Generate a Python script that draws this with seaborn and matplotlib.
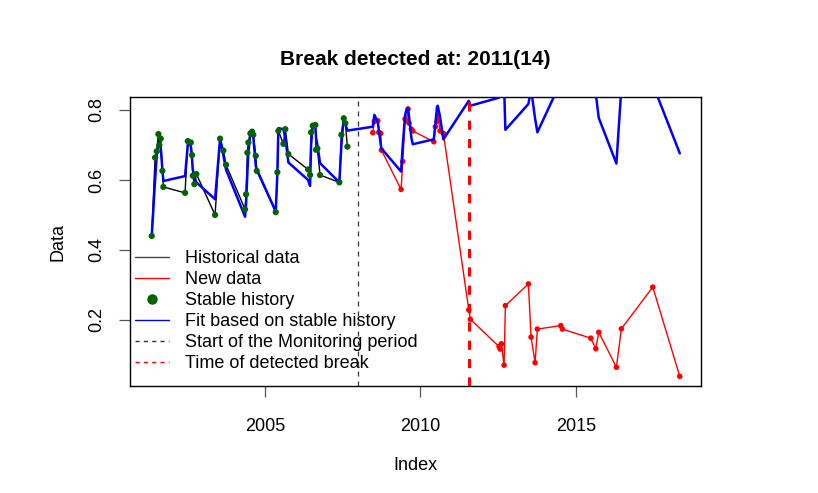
import numpy as np
import pandas as pd
import seaborn as sns
import matplotlib.pyplot as plt
from matplotlib.lines import Line2D

# stable history (observations + fitted model)
hist_time = [2001.353, 2001.460, 2001.514, 2001.566, 2001.598, 2001.643, 2001.695, 2001.727,
             2002.425, 2002.512, 2002.609, 2002.650, 2002.673, 2002.724, 2002.789,
             2003.391, 2003.552, 2003.658, 2003.745,
             2004.356, 2004.388, 2004.430, 2004.463, 2004.527, 2004.582, 2004.623, 2004.701, 2004.733,
             2005.344, 2005.396, 2005.428, 2005.589, 2005.653, 2005.750,
             2006.384, 2006.448, 2006.481, 2006.535, 2006.619, 2006.641, 2006.683, 2006.770,
             2007.391, 2007.456, 2007.533, 2007.584, 2007.649]
hist_value = [0.440, 0.664, 0.682, 0.731, 0.700, 0.718, 0.626, 0.580,
              0.563, 0.711, 0.707, 0.671, 0.612, 0.588, 0.617,
              0.500, 0.718, 0.684, 0.643,
              0.516, 0.559, 0.678, 0.707, 0.733, 0.738, 0.729, 0.669, 0.626,
              0.508, 0.622, 0.740, 0.703, 0.745, 0.674,
              0.630, 0.614, 0.736, 0.755, 0.757, 0.686, 0.690, 0.614,
              0.593, 0.729, 0.776, 0.762, 0.695]
hist_fit = [0.440, 0.600, 0.670, 0.705, 0.700, 0.690, 0.630, 0.597,
            0.611, 0.700, 0.700, 0.660, 0.630, 0.610, 0.593,
            0.545, 0.718, 0.670, 0.629,
            0.495, 0.530, 0.620, 0.680, 0.735, 0.741, 0.720, 0.640, 0.630,
            0.510, 0.620, 0.748, 0.745, 0.720, 0.650,
            0.600, 0.583, 0.700, 0.757, 0.752, 0.720, 0.700, 0.648,
            0.593, 0.700, 0.781, 0.760, 0.741]

# monitoring period (new data + fitted model)
new_time = [2008.466, 2008.518, 2008.627, 2008.659, 2008.724, 2008.745,
            2009.377, 2009.432, 2009.506, 2009.548, 2009.603, 2009.635, 2009.709, 2009.754,
            2010.430, 2010.481, 2010.536, 2010.558, 2010.632, 2010.739,
            2011.556, 2011.608,
            2012.531, 2012.564, 2012.605, 2012.692, 2012.734,
            2013.475, 2013.561, 2013.690, 2013.764,
            2014.517, 2014.569,
            2015.483, 2015.644, 2015.740,
            2016.307, 2016.468,
            2017.478, 2018.347]
new_value = [0.735, 0.767, 0.769, 0.736, 0.733, 0.685,
             0.573, 0.653, 0.774, 0.769, 0.803, 0.762, 0.745, 0.740,
             0.709, 0.752, 0.767, 0.783, 0.740, 0.733,
             0.229, 0.202,
             0.124, 0.117, 0.132, 0.071, 0.241,
             0.303, 0.151, 0.078, 0.174,
             0.184, 0.174,
             0.148, 0.118, 0.165,
             0.065, 0.175,
             0.294, 0.039]
new_fit = [0.752, 0.786, 0.765, 0.745, 0.700, 0.690,
           0.624, 0.700, 0.785, 0.800, 0.805, 0.780, 0.720, 0.702,
           0.716, 0.760, 0.810, 0.812, 0.780, 0.716,
           0.826, 0.812,
           0.835, 0.840, 0.850, 0.870, 0.743,
           0.817, 0.860, 0.775, 0.736,
           0.880, 0.890,
           0.900, 0.845, 0.777,
           0.647, 0.865,
           0.873, 0.676]

monitor_start = 2008.0
break_time = 2011.57

hist = pd.DataFrame({"time": hist_time, "value": hist_value})
new = pd.DataFrame({"time": new_time, "value": new_value})
fit = pd.DataFrame({"time": hist_time + new_time, "value": hist_fit + new_fit})

sns.set_style("ticks")
plt.rcParams["font.family"] = ["Liberation Sans", "DejaVu Sans"]
plt.rcParams.update({"text.color": "black", "axes.labelcolor": "black",
                     "xtick.color": "black", "ytick.color": "black"})

fig = plt.figure(figsize=(8.18, 4.93), dpi=100)
ax = fig.add_axes([0.159, 0.217, 0.6976, 0.5856])

sns.lineplot(data=hist, x="time", y="value", color="black", linewidth=1,
             sort=False, estimator=None, ax=ax)
sns.lineplot(data=new, x="time", y="value", color="red", linewidth=1,
             sort=False, estimator=None, ax=ax)
sns.scatterplot(data=new, x="time", y="value", color="red", s=16,
                edgecolor="none", ax=ax, zorder=3)
sns.lineplot(data=fit, x="time", y="value", color="blue", linewidth=1.8,
             sort=False, estimator=None, ax=ax, zorder=4)
sns.scatterplot(data=hist, x="time", y="value", color="#006400", s=20,
                edgecolor="none", ax=ax, zorder=5)

ax.axvline(monitor_start, color="#333333", linestyle=(0, (4, 4)), linewidth=0.9, zorder=6)
ax.axvline(break_time, color="red", linestyle=(0, (3, 3)), linewidth=2.2, zorder=6)

ax.set_xlim(2000.655, 2019.02)
ax.set_ylim(0.0114, 0.836)
ax.set_xticks([2005, 2010, 2015])
ax.set_yticks([0.2, 0.4, 0.6, 0.8])
ax.set_yticklabels(["0.2", "0.4", "0.6", "0.8"], rotation=90, va="center")
ax.tick_params(axis="both", direction="out", length=7.7, width=0.9, labelsize=13,
               color="#555555")
ax.tick_params(axis="x", pad=15)
ax.tick_params(axis="y", pad=10)
for sp in ax.spines.values():
    sp.set_visible(True)
    sp.set_linewidth(1)
    sp.set_color("black")

ax.set_xlabel("Index", fontsize=13, labelpad=16)
ax.set_ylabel("Data", fontsize=13, labelpad=16)
ax.set_title("Break detected at: 2011(14)", fontsize=15, fontweight="bold", pad=23.5)

handles = [
    Line2D([], [], color="#444444", linewidth=1),
    Line2D([], [], color="red", linewidth=1),
    Line2D([], [], color="#006400", marker="o", linestyle="none", markersize=6.5),
    Line2D([], [], color="blue", linewidth=1),
    Line2D([], [], color="#333333", linewidth=1, linestyle=(0, (3, 3))),
    Line2D([], [], color="red", linewidth=1, linestyle=(0, (3, 3))),
]
labels = ["Historical data", "New data", "Stable history", "Fit based on stable history",
          "Start of the Monitoring period", "Time of detected break"]
ax.legend(handles, labels, loc="upper left", bbox_to_anchor=(0.0, 0.49), frameon=False,
          fontsize=13, handlelength=1.85, handletextpad=0.9, labelspacing=0.22,
          borderpad=0.3, borderaxespad=0.0)

fig.savefig("out.png", dpi=100)
